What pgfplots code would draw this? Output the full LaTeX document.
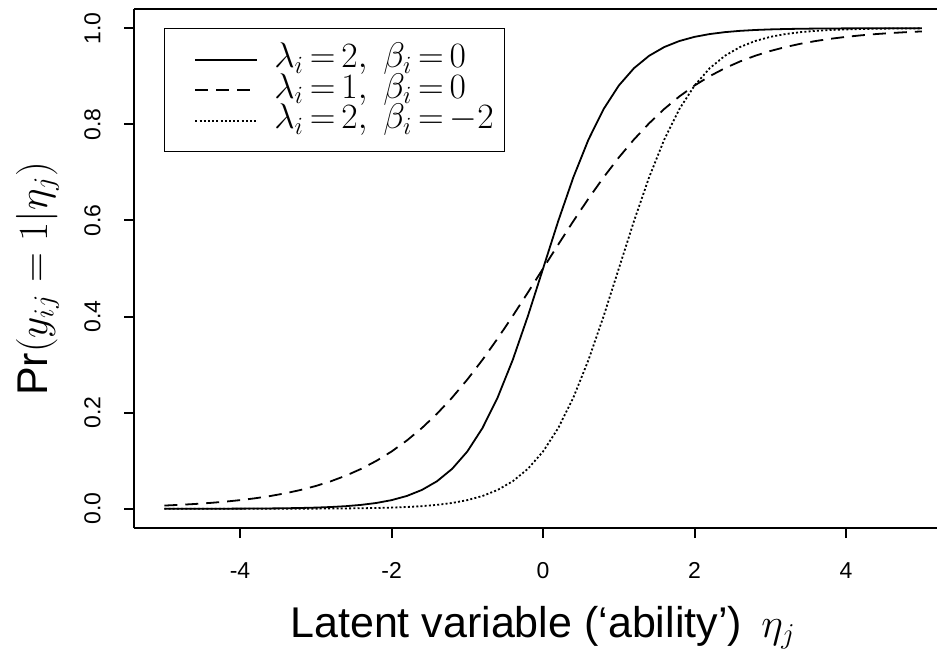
\documentclass[border=0pt]{standalone}
\usepackage{graphicx}
\usepackage{fontspec}
\setmainfont{Liberation Sans}
\usepackage{pgfplots}
\usepackage{pgfplotstable}
\pgfplotsset{compat=1.18}

% lambda=2, beta=0
\pgfplotstableread{
x y
-5.0 0.0000454
-4.8 0.0000677
-4.6 0.000101
-4.4 0.000151
-4.2 0.000225
-4.0 0.000335
-3.8 0.000500
-3.6 0.000746
-3.4 0.001113
-3.2 0.001659
-3.0 0.002473
-2.8 0.003684
-2.6 0.005486
-2.4 0.008163
-2.2 0.012128
-2.0 0.017986
-1.8 0.026597
-1.6 0.039166
-1.4 0.057324
-1.2 0.083173
-1.0 0.119203
-0.8 0.167982
-0.6 0.231475
-0.4 0.310026
-0.2 0.401312
0.0 0.5
0.2 0.598688
0.4 0.689974
0.6 0.768525
0.8 0.832018
1.0 0.880797
1.2 0.916827
1.4 0.942676
1.6 0.960834
1.8 0.973403
2.0 0.982014
2.2 0.987872
2.4 0.991837
2.6 0.994514
2.8 0.996316
3.0 0.997527
3.2 0.998341
3.4 0.998887
3.6 0.999254
3.8 0.999500
4.0 0.999665
4.2 0.999775
4.4 0.999849
4.6 0.999899
4.8 0.999932
5.0 0.999955
}\tabA

% lambda=1, beta=0
\pgfplotstableread{
x y
-5.0 0.006693
-4.8 0.008163
-4.6 0.009952
-4.4 0.012128
-4.2 0.014774
-4.0 0.017986
-3.8 0.021881
-3.6 0.026597
-3.4 0.032295
-3.2 0.039166
-3.0 0.047426
-2.8 0.057324
-2.6 0.069138
-2.4 0.083173
-2.2 0.099750
-2.0 0.119203
-1.8 0.141851
-1.6 0.167982
-1.4 0.197816
-1.2 0.231475
-1.0 0.268941
-0.8 0.310026
-0.6 0.354344
-0.4 0.401312
-0.2 0.450166
0.0 0.5
0.2 0.549834
0.4 0.598688
0.6 0.645656
0.8 0.689974
1.0 0.731059
1.2 0.768525
1.4 0.802184
1.6 0.832018
1.8 0.858149
2.0 0.880797
2.2 0.900250
2.4 0.916827
2.6 0.930862
2.8 0.942676
3.0 0.952574
3.2 0.960834
3.4 0.967705
3.6 0.973403
3.8 0.978119
4.0 0.982014
4.2 0.985226
4.4 0.987872
4.6 0.990048
4.8 0.991837
5.0 0.993307
}\tabB

% lambda=2, beta=-2
\pgfplotstableread{
x y
-5.0 0.0000061
-4.8 0.0000092
-4.6 0.0000137
-4.4 0.0000204
-4.2 0.0000304
-4.0 0.0000454
-3.8 0.0000677
-3.6 0.000101
-3.4 0.000151
-3.2 0.000225
-3.0 0.000335
-2.8 0.000500
-2.6 0.000746
-2.4 0.001113
-2.2 0.001659
-2.0 0.002473
-1.8 0.003684
-1.6 0.005486
-1.4 0.008163
-1.2 0.012128
-1.0 0.017986
-0.8 0.026597
-0.6 0.039166
-0.4 0.057324
-0.2 0.083173
0.0 0.119203
0.2 0.167982
0.4 0.231475
0.6 0.310026
0.8 0.401312
1.0 0.5
1.2 0.598688
1.4 0.689974
1.6 0.768525
1.8 0.832018
2.0 0.880797
2.2 0.916827
2.4 0.942676
2.6 0.960834
2.8 0.973403
3.0 0.982014
3.2 0.987872
3.4 0.991837
3.6 0.994514
3.8 0.996316
4.0 0.997527
4.2 0.998341
4.4 0.998887
4.6 0.999254
4.8 0.999500
5.0 0.999665
}\tabC

\newcommand{\legtxt}[1]{\makebox[115pt][l]{\scalebox{1.03}{#1}}}

\begin{document}
\begin{tikzpicture}
\begin{axis}[name=ax,
  scale only axis, width=401.5pt, height=259.5pt,
  xmin=-5.4, xmax=5.2, ymin=-0.04, ymax=1.04,
  axis x line*=box, axis y line*=left,
  axis line style={line width=1pt, -},
  xtick={-4,-2,0,2,4}, xticklabels={-4,-2,0,2,4},
  ytick={0,0.2,0.4,0.6,0.8,1}, yticklabels={0.0,0.2,0.4,0.6,0.8,1.0},
  xtick pos=left, ytick pos=left,
  tick align=outside, major tick length=5pt,
  every tick/.style={black, line width=1pt},
  tick label style={font=\fontsize{11.5}{13}\selectfont},
  xticklabel style={anchor=north},
  xticklabel shift=8.7pt,
  yticklabel style={rotate=90, anchor=south},
  yticklabel shift=8.2pt,
  every axis x label/.style={at={(axis description cs:0.5094,0)}, anchor=base, yshift=-54.5pt, font=\fontsize{21.5}{24}\selectfont},
  every axis y label/.style={at={(axis description cs:-0.1083,0.48)}, rotate=90, anchor=base, font=\fontsize{21.5}{24}\selectfont},
  xlabel={Latent variable (‘ability’)\hspace{0.45em}$\eta_j$},
  ylabel={Pr$(y_{ij}=1|\eta_j)$},
  legend image code/.code={\path[draw=none] (0pt,0pt) -- (15.5pt,0pt); \draw[#1] (15.5pt,0pt) -- (46.5pt,0pt);},
  legend style={at={(axis description cs:0.03736,0.9634)}, anchor=north west,
    draw=black, line width=0.5pt, fill=white,
    font=\fontsize{17.28}{19}\selectfont,
    inner xsep=0pt, inner ysep=8pt, row sep=0pt,
    nodes={inner sep=0pt, text height=11.7pt, text depth=3.55pt},
    cells={anchor=west},
    /tikz/every odd column/.style={column sep=8pt}},
]
\addplot[black, line width=0.9pt] table {\tabA};
\addlegendentry{\legtxt{$\lambda_i\mkern3mu{=}\mkern3mu2,\mkern5mu\beta_i\mkern3mu{=}\mkern3mu0$}}
\addplot[black, line width=0.9pt, dash pattern=on 6.5pt off 4pt] table {\tabB};
\addlegendentry{\legtxt{$\lambda_i\mkern3mu{=}\mkern3mu1,\mkern5mu\beta_i\mkern3mu{=}\mkern3mu0$}}
\addplot[black, line width=0.9pt, dash pattern=on 1pt off 1.1pt] table {\tabC};
\addlegendentry{\legtxt{$\lambda_i\mkern3mu{=}\mkern3mu2,\mkern5mu\beta_i\mkern3mu{=}\mkern3mu{-2}$}}
\end{axis}
\pgfresetboundingbox
\path[use as bounding box] ([xshift=-67pt,yshift=-61.5pt]ax.south west) rectangle ([yshift=4.5pt]ax.north east);
\end{tikzpicture}
\end{document}
